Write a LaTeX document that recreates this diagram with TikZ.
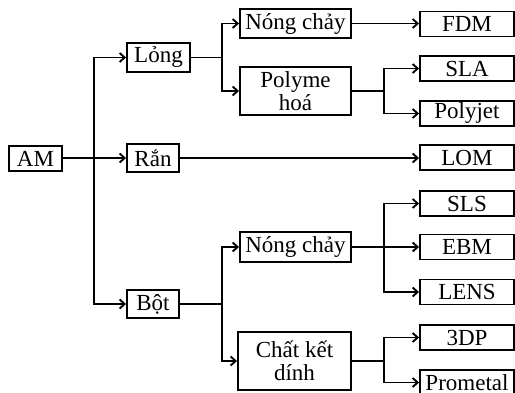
\documentclass[tikz,border=0pt]{standalone}
\usepackage{fontspec}
\setmainfont{Liberation Serif}
\usetikzlibrary{arrows.meta}
\begin{document}
\begin{tikzpicture}[x=1pt,y=-1pt,
  box/.style={draw,line width=1.9pt,inner sep=0pt,align=center,
    font=\fontsize{23}{23}\selectfont},
  leaf/.style={box,minimum width=94pt,minimum height=25pt},
  link/.style={line width=1.9pt},
  arr/.style={link,-{Straight Barb[length=5pt,width=9pt,line width=1.9pt]}}]
\useasboundingbox (0,0) rectangle (515,393);
% level 0/1
\node[box,minimum width=53pt,minimum height=25pt] (AM) at (35.5,158.5) {AM};
\node[box,minimum width=63pt,minimum height=29pt] (Long) at (158.5,57.5) {Lỏng};
\node[box,minimum width=52pt,minimum height=28pt] (Ran) at (153,158) {Rắn};
\node[box,minimum width=52pt,minimum height=28pt] (Bot) at (153,304) {Bột};
% level 2
\node[box,minimum width=111pt,minimum height=29pt] (NC1) at (295.5,23.5) {Nóng chảy};
\node[box,minimum width=111pt,minimum height=48pt] (Poly) at (295.5,91) {Polyme\\hoá};
\node[box,minimum width=111pt,minimum height=30pt] (NC2) at (295.5,247) {Nóng chảy};
\node[box,minimum width=113pt,minimum height=58pt] (Chat) at (294.5,361) {Chất kết\\dính};
% leaves
\node[leaf] (FDM) at (467,24) {FDM};
\node[leaf] (SLA) at (467,68.5) {SLA};
\node[leaf] (Polyjet) at (467,113.5) {Polyjet};
\node[leaf] (LOM) at (467,157.5) {LOM};
\node[leaf] (SLS) at (467,203.5) {SLS};
\node[leaf] (EBM) at (467,247) {EBM};
\node[leaf] (LENS) at (467,292) {LENS};
\node[leaf] (3DP) at (467,337.5) {3DP};
\node[leaf] (Prometal) at (467,382.5) {Prometal};
% junctions
\coordinate (j0) at (94,158);
\coordinate (j1) at (222,57.5);
\coordinate (j2) at (222,304);
\coordinate (j3) at (384,91);
\coordinate (j4) at (384,247);
\coordinate (j5) at (384,361);
% connectors
\draw[arr] (AM.east |- j0) -- (Ran.west |- j0);
\draw[arr] (j0) |- (Long.west);
\draw[arr] (j0) |- (Bot.west);
\draw[link] (Long.east) -- (j1);
\draw[arr] (j1) |- (NC1.west);
\draw[arr] (j1) |- (Poly.west);
\draw[arr] (NC1.east) -- (FDM.west |- NC1.east);
\draw[link] (Poly.east) -- (j3);
\draw[arr] (j3) |- (SLA.west);
\draw[arr] (j3) |- (Polyjet.west);
\draw[arr] (Ran.east) -- (LOM.west |- Ran.east);
\draw[link] (Bot.east) -- (j2);
\draw[arr] (j2) |- (NC2.west);
\draw[arr] (j2) |- (Chat.west);
\draw[link] (NC2.east) -- (j4);
\draw[arr] (j4) |- (SLS.west);
\draw[arr] (j4) -- (EBM.west);
\draw[arr] (j4) |- (LENS.west);
\draw[link] (Chat.east) -- (j5);
\draw[arr] (j5) |- (3DP.west);
\draw[arr] (j5) |- (Prometal.west);
\end{tikzpicture}
\end{document}
